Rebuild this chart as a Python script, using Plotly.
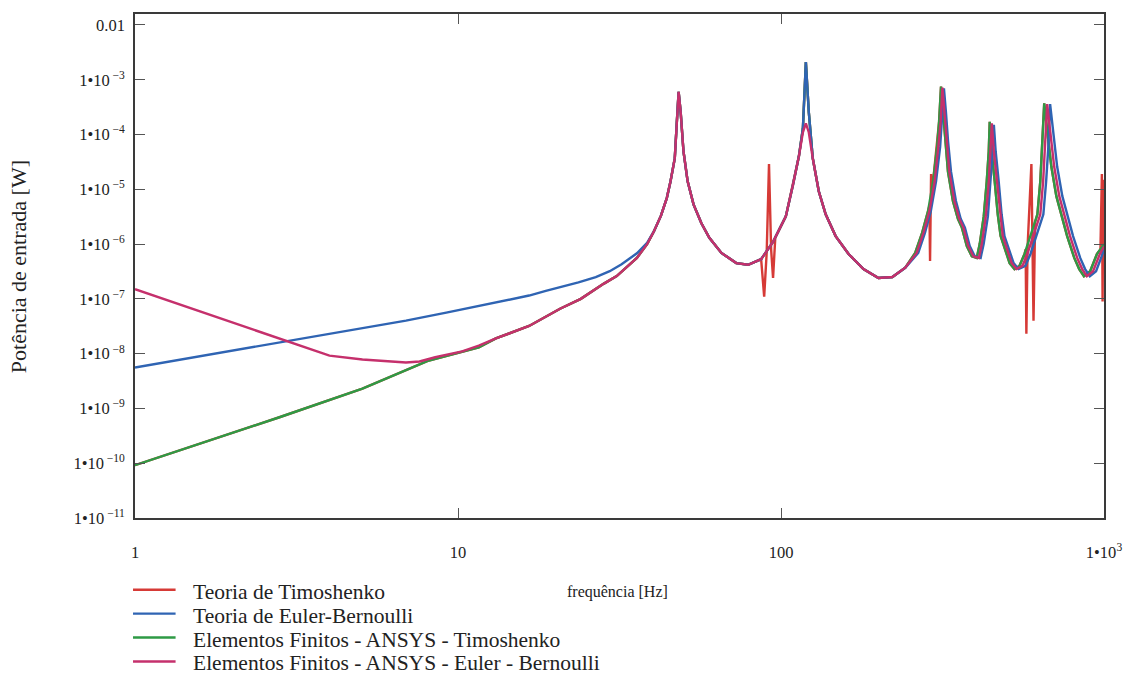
import plotly.graph_objects as go

# ---------------- data ----------------
# Teoria de Timoshenko (red)
freq_timo_theory = [1, 2.8, 5.06, 8.13, 11.6, 13.1, 16.6, 20.7, 24.0, 28.3, 31.0, 35.8,
                    38.5, 40.4, 42.5, 44.3, 45.5, 46.9, 47.5, 48.2, 48.9, 49.9, 51.4, 53.6,
                    56.7, 60.0, 65.4, 72.7, 79.1, 86.8, 88.7, 90.3, 91.8, 93.2, 94.5, 96.0,
                    103.5, 108.9, 113.6, 116.9, 119.4, 121.9, 125.4, 130.9, 137.5, 147.6,
                    161.9, 180.0, 200.3, 221.2, 242.5, 260.3, 273.5, 285.3, 288.0, 289.4,
                    291.5, 293.5, 295.7, 304.3, 308.6, 312.9, 317.4, 321.9, 328.8, 340.6,
                    353.0, 363.1, 376.1, 389.7, 403.7, 412.3, 424.3, 433.5, 439.7, 442.8,
                    449.0, 458.8, 468.9, 478.6, 492.2, 510.3, 528.4, 547.3, 567.5, 572, 575,
                    580, 596, 600, 605, 612, 622, 635, 644, 653, 668, 687, 712, 738, 769,
                    809, 838, 867, 906, 951, 975, 985, 990, 995, 1000]
p_timo_theory = [9.2e-11, 6.9e-10, 2.3e-9, 7.5e-9, 1.3e-8, 1.9e-8, 3.2e-8, 6.6e-8, 1.0e-7,
                 1.9e-7, 2.6e-7, 5.6e-7,
                 1.0e-6, 1.7e-6, 3.3e-6, 6.9e-6, 1.4e-5, 3.7e-5, 1.4e-4, 6.0e-4, 2.6e-4,
                 4.9e-5, 1.4e-5, 5.3e-6,
                 2.4e-6, 1.3e-6, 6.9e-7, 4.5e-7, 4.2e-7, 5.3e-7, 1.1e-7, 7.0e-7, 2.9e-5,
                 8.0e-7, 2.4e-7, 1.3e-6,
                 3.2e-6, 1.2e-5, 4.0e-5, 1.3e-4, 2.1e-3, 2.6e-4, 3.7e-5, 9.2e-6, 3.5e-6,
                 1.4e-6,
                 6.6e-7, 3.5e-7, 2.4e-7, 2.5e-7, 3.7e-7, 6.9e-7, 1.6e-6, 4.0e-6, 5.0e-6,
                 4.9e-7,
                 1.9e-5, 9.0e-6, 1.4e-5, 6.0e-5, 1.7e-4, 7.5e-4, 2.6e-4, 7.5e-5, 2.1e-5,
                 6.1e-6,
                 2.9e-6, 2.0e-6, 9.2e-7, 6.0e-7, 5.6e-7, 1.0e-6, 3.2e-6, 1.4e-5, 4.9e-5,
                 1.7e-4,
                 4.9e-5, 1.4e-5, 3.5e-6, 1.4e-6, 8.5e-7, 4.5e-7, 3.5e-7, 4.0e-7, 6.6e-7,
                 8.0e-7, 2.3e-8,
                 9.0e-7, 2.9e-5, 2.0e-6, 4.0e-8, 2.5e-6, 3.5e-6, 1.4e-5, 5.6e-5, 3.7e-4,
                 1.1e-4, 2.6e-5, 7.5e-6, 3.5e-6, 1.4e-6,
                 5.6e-7, 3.5e-7, 2.6e-7, 3.2e-7, 6.6e-7, 8.0e-7, 1.9e-5, 9.0e-8, 1.5e-5,
                 1.0e-6]

# Teoria de Euler-Bernoulli (blue)
freq_eb_theory = [1, 2.8, 5.7, 6.9, 9.2, 13.1, 16.6, 18.7, 23.6, 26.7, 29.5, 32.1, 35.8,
                  38.5, 40.4, 42.5, 44.3, 45.5, 46.9, 47.5, 48.2, 48.9, 49.9, 51.4, 53.6,
                  56.7, 60.0, 65.4, 72.7, 79.1, 86.8, 94.5, 103.5, 108.9, 113.6, 116.9,
                  119.4, 121.9, 125.4, 130.9, 137.5, 147.6, 161.9, 180.0, 200.3, 221.2,
                  242.5, 266, 279, 291, 302, 311, 315, 319.5, 324, 329, 336, 348, 360, 371,
                  384, 398, 415, 424, 437, 446, 452, 456, 462, 472, 482, 492, 506, 525, 544,
                  571, 592, 617, 649, 662, 672, 681, 697, 716, 743, 770, 802, 844, 874, 904,
                  945, 990, 1000]
p_eb_theory = [5.6e-9, 1.6e-8, 3.2e-8, 4.0e-8, 5.6e-8, 8.5e-8, 1.15e-7, 1.4e-7, 2.0e-7,
               2.5e-7, 3.2e-7, 4.3e-7, 6.8e-7,
               1.05e-6, 1.7e-6, 3.3e-6, 6.9e-6, 1.4e-5, 3.7e-5, 1.4e-4, 6.0e-4, 2.6e-4,
               4.9e-5, 1.4e-5, 5.3e-6,
               2.4e-6, 1.3e-6, 6.9e-7, 4.5e-7, 4.2e-7, 5.3e-7, 1.1e-6, 3.2e-6, 1.2e-5,
               4.0e-5, 1.3e-4,
               2.1e-3, 2.6e-4, 3.7e-5, 9.2e-6, 3.5e-6, 1.4e-6, 6.6e-7, 3.5e-7, 2.4e-7,
               2.5e-7,
               3.7e-7, 6.9e-7, 1.6e-6, 4.0e-6, 1.4e-5, 6.0e-5, 1.7e-4, 7.0e-4, 2.6e-4,
               7.5e-5, 2.1e-5, 6.1e-6, 2.9e-6, 2.0e-6,
               9.2e-7, 6.0e-7, 5.6e-7, 1.0e-6, 3.2e-6, 1.4e-5, 4.9e-5, 1.5e-4, 4.9e-5,
               1.4e-5, 3.5e-6, 1.4e-6, 8.5e-7, 4.5e-7, 3.5e-7,
               4.0e-7, 6.6e-7, 1.4e-6, 3.5e-6, 1.4e-5, 5.6e-5, 3.6e-4, 1.1e-4, 2.6e-5,
               7.5e-6, 3.5e-6, 1.4e-6, 5.6e-7, 3.5e-7, 2.6e-7,
               3.2e-7, 6.6e-7, 8.0e-7]

# Elementos Finitos - ANSYS - Timoshenko (green)
freq_ansys_timo = [1, 2.8, 5.06, 8.13, 11.6, 13.1, 16.6, 20.7, 24.0, 28.3, 31.0, 35.8,
                   38.5, 40.4, 42.5, 44.3, 45.5, 46.9, 47.5, 48.2, 48.9, 49.9, 51.4, 53.6,
                   56.7, 60.0, 65.4, 72.7, 79.1, 86.8, 94.5, 103.5, 108.9, 113.6, 116.9,
                   119.4, 121.9, 125.4, 130.9, 137.5, 147.6, 161.9, 180.0, 200.3, 221.2,
                   242.5, 260.3, 273.5, 285.3, 295.7, 304.3, 308.6, 312.9, 317.4, 321.9,
                   328.8, 340.6, 353.0, 363.1, 376.1, 389.7, 403.7, 412.3, 424.3, 433.5,
                   439.7, 442.8, 449.0, 458.8, 468.9, 478.6, 492.2, 510.3, 528.4, 547.3,
                   567.5, 592, 622, 635, 644, 653, 668, 687, 712, 738, 769, 809, 838, 867,
                   906, 951, 1000]
p_ansys_timo = [9.2e-11, 6.9e-10, 2.3e-9, 7.5e-9, 1.3e-8, 1.9e-8, 3.2e-8, 6.6e-8, 1.0e-7,
                1.9e-7, 2.6e-7, 5.6e-7,
                1.0e-6, 1.7e-6, 3.3e-6, 6.9e-6, 1.4e-5, 3.7e-5, 1.4e-4, 6.0e-4, 2.6e-4,
                4.9e-5, 1.4e-5, 5.3e-6,
                2.4e-6, 1.3e-6, 6.9e-7, 4.5e-7, 4.2e-7, 5.3e-7, 1.1e-6, 3.2e-6, 1.2e-5,
                4.0e-5, 1.3e-4,
                2.1e-3, 2.6e-4, 3.7e-5, 9.2e-6, 3.5e-6, 1.4e-6, 6.6e-7, 3.5e-7, 2.4e-7,
                2.5e-7,
                3.7e-7, 6.9e-7, 1.6e-6, 4.0e-6, 1.4e-5, 6.0e-5, 1.7e-4, 7.5e-4, 2.6e-4,
                7.5e-5,
                2.1e-5, 6.1e-6, 2.9e-6, 2.0e-6, 9.2e-7, 6.0e-7, 5.6e-7, 1.0e-6, 3.2e-6,
                1.4e-5,
                4.9e-5, 1.7e-4, 4.9e-5, 1.4e-5, 3.5e-6, 1.4e-6, 8.5e-7, 4.5e-7, 3.5e-7,
                4.0e-7,
                6.6e-7, 1.4e-6, 3.5e-6, 1.4e-5, 5.6e-5, 3.7e-4, 1.1e-4, 2.6e-5, 7.5e-6,
                3.5e-6, 1.4e-6, 5.6e-7, 3.5e-7, 2.6e-7,
                3.2e-7, 6.6e-7, 1.0e-6]

# Elementos Finitos - ANSYS - Euler - Bernoulli (magenta)
freq_ansys_eb = [1, 2.8, 4.0, 5.06, 5.7, 6.9, 7.6, 8.5, 10.3, 11.6, 13.1, 16.6, 20.7,
                 24.0, 28.3, 31.0, 35.8,
                 38.5, 40.4, 42.5, 44.3, 45.5, 46.9, 47.5, 48.2, 48.9, 49.9, 51.4, 53.6,
                 56.7, 60.0, 65.4, 72.7, 79.1, 86.8, 94.5, 103.5, 108.9, 113.6, 116.9,
                 119.4, 121.9, 125.4, 130.9, 137.5, 147.6, 161.9, 180.0, 200.3, 221.2,
                 242.5, 263, 276, 288, 299, 307, 312, 316, 320.5, 325, 332, 344, 356.5, 367,
                 380, 394, 410, 418.5, 430.5, 440, 446, 449.5, 456, 466, 476, 486, 499.5,
                 518, 536, 559, 579, 604, 635, 648, 657.5, 667, 682, 701, 727, 753.5, 785,
                 826, 856, 885, 925, 971, 1000]
p_ansys_eb = [1.5e-7, 1.9e-8, 9.2e-9, 7.8e-9, 7.5e-9, 6.9e-9, 7.2e-9, 8.6e-9, 1.1e-8,
              1.4e-8, 1.9e-8, 3.2e-8, 6.6e-8,
              1.0e-7, 1.9e-7, 2.6e-7, 5.6e-7,
              1.0e-6, 1.7e-6, 3.3e-6, 6.9e-6, 1.4e-5, 3.7e-5, 1.4e-4, 6.0e-4, 2.6e-4,
              4.9e-5, 1.4e-5, 5.3e-6,
              2.4e-6, 1.3e-6, 6.9e-7, 4.5e-7, 4.2e-7, 5.3e-7, 1.1e-6, 3.2e-6, 1.2e-5,
              4.0e-5, 1.1e-4,
              1.6e-4, 1.1e-4, 3.7e-5, 9.2e-6, 3.5e-6, 1.4e-6, 6.6e-7, 3.5e-7, 2.4e-7,
              2.5e-7,
              3.7e-7, 6.9e-7, 1.6e-6, 4.0e-6, 1.4e-5, 6.0e-5, 1.7e-4, 7.2e-4, 2.6e-4,
              7.5e-5, 2.1e-5, 6.1e-6, 2.9e-6, 2.0e-6,
              9.2e-7, 6.0e-7, 5.6e-7, 1.0e-6, 3.2e-6, 1.4e-5, 4.9e-5, 1.6e-4, 4.9e-5,
              1.4e-5, 3.5e-6, 1.4e-6, 8.5e-7,
              4.5e-7, 3.5e-7, 4.0e-7, 6.6e-7, 1.4e-6, 3.5e-6, 1.4e-5, 5.6e-5, 3.6e-4,
              1.1e-4, 2.6e-5, 7.5e-6, 3.5e-6, 1.4e-6,
              5.6e-7, 3.5e-7, 2.6e-7, 3.2e-7, 6.6e-7, 9.0e-7]

series_names = ["Teoria de Timoshenko", "Teoria de Euler-Bernoulli",
                "Elementos Finitos - ANSYS - Timoshenko",
                "Elementos Finitos - ANSYS - Euler - Bernoulli"]

x_tick_vals = [1, 10, 100, 1000]
x_tick_text = ["1", "10", "100", "1\u202210<sup>3</sup>"]
y_tick_vals = [1e-2, 1e-3, 1e-4, 1e-5, 1e-6, 1e-7, 1e-8, 1e-9, 1e-10, 1e-11]
y_tick_text = ["0.01"] + ["1\u202210<sup> \u2212%d</sup>" % k for k in range(3, 12)]

# ---------------- figure ----------------
colors = ["#d63a36", "#2f64b3", "#2e9a45", "#c5306c"]
data = [(freq_timo_theory, p_timo_theory), (freq_eb_theory, p_eb_theory),
        (freq_ansys_timo, p_ansys_timo), (freq_ansys_eb, p_ansys_eb)]

FONT = "Liberation Serif, Times New Roman, serif"
TXT = "#222222"

W, H = 1134, 679
ML, MR, MT, MB = 135, 20, 12, 161
PW, PH = W - ML - MR, H - MT - MB


def px_x(x):
    return (x - ML) / PW


def px_y(y):
    return (H - MB - y) / PH


fig = go.Figure()
# drawing order: red, green, blue, magenta (the legend below keeps the reference order)
for idx in [0, 2, 1, 3]:
    fx, py = data[idx]
    assert len(fx) == len(py), (series_names[idx], len(fx), len(py))
    fig.add_trace(go.Scatter(x=fx, y=py, mode="lines", name=series_names[idx],
                             line=dict(color=colors[idx], width=2.4)))

axis_common = dict(showline=True, linecolor="#3a3a3a", linewidth=1.6, mirror="ticks",
                   ticks="inside", ticklen=10, tickcolor="#555555", tickwidth=1,
                   showgrid=False, zeroline=False,
                   tickfont=dict(family=FONT, size=16.5, color=TXT))

fig.update_xaxes(type="log", range=[0, 3.0], tickvals=x_tick_vals, ticktext=x_tick_text,
                 ticklabelstandoff=18, **axis_common)
fig.update_yaxes(type="log", range=[-11, -1.8], tickvals=y_tick_vals, ticktext=y_tick_text,
                 ticklabelstandoff=5, **axis_common)

fig.add_annotation(text="Potência de entrada [W]", textangle=-90, xref="paper", yref="paper",
                   x=px_x(18), y=px_y(266), showarrow=False, xanchor="center",
                   yanchor="middle", font=dict(family=FONT, size=22, color=TXT))
fig.add_annotation(text="frequência [Hz]", xref="paper", yref="paper",
                   x=px_x(622), y=px_y(592), showarrow=False, xanchor="center",
                   yanchor="middle", font=dict(family=FONT, size=16, color=TXT))

# legend drawn below the plot (rows 24 px apart as in the reference)
legend_rows_px = [592, 616, 640, 664]
for name, col, yp in zip(series_names, colors, legend_rows_px):
    fig.add_shape(type="line", xref="paper", yref="paper", x0=px_x(133), x1=px_x(176),
                  y0=px_y(yp - 2), y1=px_y(yp - 2), line=dict(color=col, width=2.4))
    fig.add_annotation(text=name, xref="paper", yref="paper", x=px_x(192), y=px_y(yp),
                       showarrow=False, xanchor="left", yanchor="middle",
                       font=dict(family=FONT, size=21.5, color=TXT))

fig.update_layout(
    width=W, height=H, autosize=False,
    margin=dict(l=ML, r=MR, t=MT, b=MB),
    paper_bgcolor="white", plot_bgcolor="white",
    showlegend=False,
)

fig.write_html("out.html", config={"displayModeBar": False},
               post_script="document.body.style.margin='0px';")
